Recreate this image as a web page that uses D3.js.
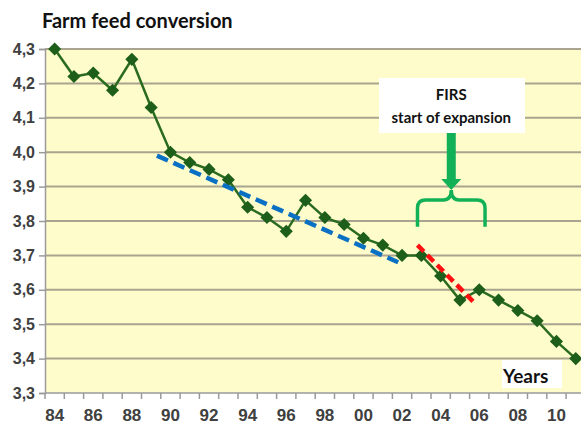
<!DOCTYPE html>
<html>
<head>
<meta charset="utf-8">
<script src="https://cdn.jsdelivr.net/npm/d3@7"></script>
<style>
  body { margin: 0; background: #fff; }
  svg { display: block; }
</style>
</head>
<body>
<div id="viz"></div>
<script>
// years on the category axis, and farm feed conversion per year
const years = ['84','85','86','87','88','89','90','91','92','93','94','95','96','97',
               '98','99','00','01','02','03','04','05','06','07','08','09','10','11']
const conversion = [4.30, 4.22, 4.23, 4.18, 4.27, 4.13, 4.00, 3.97, 3.95, 3.92, 3.84, 3.81, 3.77, 3.86,
                    3.81, 3.79, 3.75, 3.73, 3.70, 3.70, 3.64, 3.57, 3.60, 3.57, 3.54, 3.51, 3.45, 3.40]
const yTicks = [3.3, 3.4, 3.5, 3.6, 3.7, 3.8, 3.9, 4.0, 4.1, 4.2, 4.3]
const xLabels = years.filter((d, i) => i % 2 === 0 && i < 27)

// trend lines, as [year index, value]
const blueTrend = [[5.3, 3.99], [17.8, 3.68]]
const redTrend = [[18.8, 3.73], [21.7, 3.565]]

// brace under the annotation (year index / value)
const braceSpan = [18.8, 22.3]
const braceTop = 3.861, braceBottom = 3.783, braceTip = 3.89

const width = 581
const height = 428
const band = 19.3
const left = 45

const svg = d3.select('#viz')
  .append('svg')
    .attr('width', width)
    .attr('height', height)

let x = d3.scaleBand()
  .domain(years)
  .range([left, left + band * years.length])
  .paddingInner(0).paddingOuter(0)

let xi = d3.scaleLinear()
  .domain([0, years.length - 1])
  .range([x(years[0]) + band / 2, x(years[years.length - 1]) + band / 2])

let y = d3.scaleLinear()
  .domain([3.3, 4.3])
  .range([393, 49])

const comma = d3.formatLocale({decimal: ',', thousands: '.', grouping: [3], currency: ['', '']}).format('.1f')

// plot background
svg.append('rect')
  .attr('x', left)
  .attr('y', y(4.3))
  .attr('width', width - left)
  .attr('height', y(3.3) - y(4.3))
  .attr('fill', '#fefcca')

// grid
svg.append('g')
  .selectAll('line')
  .data(yTicks.slice(1))
  .join('line')
    .attr('x1', left)
    .attr('x2', width)
    .attr('y1', d => y(d))
    .attr('y2', d => y(d))
    .attr('stroke', '#a9a48f')
    .attr('stroke-width', 2)

// y axis
let yAxis = svg.append('g')
  .attr('transform', 'translate(' + left + ',0)')
  .call(d3.axisLeft(y).tickValues(yTicks).tickFormat(comma).tickSize(6).tickPadding(4))
yAxis.select('.domain').attr('stroke', '#9a9a9a').attr('stroke-width', 1.5)
yAxis.selectAll('.tick line').attr('stroke', '#9a9a9a').attr('stroke-width', 1.5)
yAxis.selectAll('text')
  .attr('font-family', '"Liberation Sans Narrow", "Arial Narrow", sans-serif')
  .attr('font-weight', 'bold')
  .attr('font-size', 16)
  .attr('fill', '#404040')

// x axis line and boundary ticks
svg.append('line')
  .attr('x1', left).attr('x2', width)
  .attr('y1', y(3.3)).attr('y2', y(3.3))
  .attr('stroke', '#9a9a9a').attr('stroke-width', 1.5)

svg.append('g')
  .selectAll('line')
  .data(years)
  .join('line')
    .attr('x1', d => x(d))
    .attr('x2', d => x(d))
    .attr('y1', y(3.3))
    .attr('y2', y(3.3) + 6)
    .attr('stroke', '#9a9a9a')
    .attr('stroke-width', 1.5)

svg.append('g')
  .selectAll('text')
  .data(xLabels)
  .join('text')
    .attr('x', d => x(d) + band / 2)
    .attr('y', 417)
    .attr('text-anchor', 'middle')
    .attr('dominant-baseline', 'middle')
    .attr('font-family', '"Liberation Sans Narrow", "Arial Narrow", sans-serif')
    .attr('font-weight', 'bold')
    .attr('font-size', 17)
    .attr('fill', '#404040')
    .text(d => d)

// series line + diamonds
let line = d3.line()
  .x((d, i) => x(years[i]) + band / 2)
  .y(d => y(d))

svg.append('path')
  .datum(conversion)
  .attr('d', line)
  .attr('fill', 'none')
  .attr('stroke', '#2a6b20')
  .attr('stroke-width', 2.5)

svg.append('g')
  .selectAll('path')
  .data(conversion)
  .join('path')
    .attr('d', d3.symbol(d3.symbolSquare, 86))
    .attr('transform', (d, i) => 'translate(' + [x(years[i]) + band / 2, y(d)] + ') rotate(45)')
    .attr('fill', '#1d5e1a')

// trend lines
let trend = d3.line()
  .x(d => xi(d[0]))
  .y(d => y(d[1]))

svg.append('path')
  .datum(blueTrend)
  .attr('d', trend)
  .attr('stroke', '#0a70c4')
  .attr('stroke-width', 4.5)
  .attr('stroke-dasharray', '12,6')
  .attr('fill', 'none')

svg.append('path')
  .datum(redTrend)
  .attr('d', trend)
  .attr('stroke', '#ff1010')
  .attr('stroke-width', 4.5)
  .attr('stroke-dasharray', '9,5')
  .attr('fill', 'none')

// annotation: box, arrow, brace
const green = '#13b157'
const cx = (xi(braceSpan[0]) + xi(braceSpan[1])) / 2

svg.append('rect')
  .attr('x', 379).attr('y', 78)
  .attr('width', 146).attr('height', 55)
  .attr('fill', '#fff')

svg.append('text')
  .attr('x', cx).attr('y', 100)
  .attr('text-anchor', 'middle')
  .attr('font-family', 'Lato, sans-serif')
  .attr('font-weight', 'bold')
  .attr('font-size', 15)
  .attr('fill', '#111')
  .text('FIRS')

svg.append('text')
  .attr('x', cx).attr('y', 123)
  .attr('text-anchor', 'middle')
  .attr('font-family', 'Lato, sans-serif')
  .attr('font-weight', 'bold')
  .attr('font-size', 15)
  .attr('fill', '#111')
  .text('start of expansion')

svg.append('rect')
  .attr('x', cx - 4.5).attr('y', 133)
  .attr('width', 9).attr('height', 47)
  .attr('fill', green)

svg.append('path')
  .attr('d', 'M' + (cx - 10) + ',179 L' + (cx + 10) + ',179 L' + cx + ',' + y(braceTip) + 'Z')
  .attr('fill', green)

let bx0 = xi(braceSpan[0]), bx1 = xi(braceSpan[1])
let by = y(braceTop), bb = y(braceBottom), bt = y(braceTip)
svg.append('path')
  .attr('d', 'M' + bx0 + ',' + bb +
             ' L' + bx0 + ',' + (by + 8) +
             ' Q' + bx0 + ',' + by + ' ' + (bx0 + 8) + ',' + by +
             ' L' + (cx - 8) + ',' + by +
             ' Q' + cx + ',' + by + ' ' + cx + ',' + bt +
             ' Q' + cx + ',' + by + ' ' + (cx + 8) + ',' + by +
             ' L' + (bx1 - 8) + ',' + by +
             ' Q' + bx1 + ',' + by + ' ' + bx1 + ',' + (by + 8) +
             ' L' + bx1 + ',' + bb)
  .attr('fill', 'none')
  .attr('stroke', green)
  .attr('stroke-width', 3.5)

// labels
svg.append('text')
  .attr('x', 42).attr('y', 28)
  .attr('font-family', 'Lato, sans-serif')
  .attr('font-weight', 'bold')
  .attr('font-size', 20)
  .attr('fill', '#111')
  .text('Farm feed conversion')

svg.append('rect')
  .attr('x', 502).attr('y', 360)
  .attr('width', 60).attr('height', 28)
  .attr('fill', '#fff')

svg.append('text')
  .attr('x', 503).attr('y', 383)
  .attr('font-family', 'Lato, sans-serif')
  .attr('font-weight', 'bold')
  .attr('font-size', 19)
  .attr('fill', '#111')
  .text('Years')
</script>
</body>
</html>
